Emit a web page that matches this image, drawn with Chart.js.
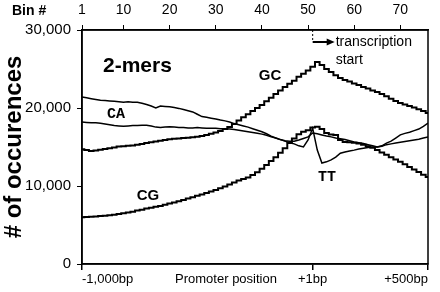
<!DOCTYPE html>
<html>
<head>
<meta charset="utf-8">
<script src="https://cdn.jsdelivr.net/npm/chart.js@4.4.1/dist/chart.umd.min.js"></script>
<style>
  html, body { margin: 0; padding: 0; background: #fff; }
  #wrap { width: 440px; height: 292px; }
</style>
</head>
<body>
<div id="wrap"><canvas id="chart"></canvas></div>
<script>
// bin number (20 bp per bin, -1,000bp .. +500bp)
const bins = [1, 2, 3, 4, 5, 6, 7, 8, 9, 10, 11, 12, 13, 14, 15, 16, 17, 18, 19, 20,
  21, 22, 23, 24, 25, 26, 27, 28, 29, 30, 31, 32, 33, 34, 35, 36, 37, 38, 39, 40,
  41, 42, 43, 44, 45, 46, 47, 48, 49, 50, 51, 52, 53, 54, 55, 56, 57, 58, 59, 60,
  61, 62, 63, 64, 65, 66, 67, 68, 69, 70, 71, 72, 73, 74, 75, 76];

const gc = [14700, 14600, 14500, 14550, 14650, 14750, 14850, 14950, 15050, 15100,
  15150, 15200, 15300, 15400, 15500, 15600, 15700, 15800, 15900, 16000,
  16050, 16100, 16150, 16200, 16250, 16300, 16400, 16550, 16700, 16850,
  17050, 17300, 17550, 17950, 18400, 18800, 19200, 19600, 20000, 20400,
  20850, 21300, 21800, 22250, 22700, 23100, 23500, 24000, 24400, 24800,
  25300, 25900, 25500, 25000, 24600, 24200, 23850, 23600, 23400, 23150,
  22950, 22700, 22500, 22250, 22050, 21800, 21500, 21200, 20900, 20650,
  20450, 20250, 20050, 19850, 19600, 19350];

const cg = [6000, 6030, 6060, 6100, 6150, 6200, 6250, 6300, 6400, 6500,
  6600, 6700, 6850, 6950, 7100, 7200, 7350, 7450, 7600, 7750,
  7900, 8050, 8200, 8400, 8550, 8750, 8900, 9100, 9300, 9500,
  9700, 9950, 10200, 10450, 10700, 10900, 11100, 11400, 11750, 12200,
  12700, 13200, 13700, 14250, 14850, 15500, 16100, 16650, 16950, 17150,
  17500, 17600, 17300, 16800, 16600, 16550, 15900, 15650, 15600, 15550,
  15450, 15300, 15100, 14900, 14600, 14300, 14000, 13700, 13400, 13100,
  12800, 12450, 12100, 11800, 11450, 11150];

const ca = [18200, 18150, 18100, 18100, 18050, 17950, 17850, 17750, 17700, 17650,
  17700, 17750, 17750, 17800, 17800, 17700, 17550, 17500, 17550, 17600,
  17550, 17500, 17500, 17450, 17450, 17500, 17450, 17400, 17400, 17400,
  17350, 17350, 17300, 17250, 17150, 17050, 16950, 16850, 16750, 16650,
  16500, 16300, 16150, 15950, 15800, 15750, 15750, 15900, 16100, 16300,
  16800, 16700, 16550, 16400, 16300, 16150, 16050, 15950, 15800, 15650,
  15550, 15450, 15300, 15150, 15000, 15100, 15300, 15400, 15500, 15600,
  15700, 15800, 15900, 16000, 16150, 16300];

const tt = [21400, 21300, 21200, 21100, 21000, 20950, 20900, 20850, 20800, 20750,
  20800, 20750, 20750, 20600, 20450, 20250, 20000, 20250, 20200, 20150,
  20050, 19950, 19800, 19650, 19500, 19200, 18900, 18800, 18700, 18600,
  18450, 18350, 18200, 18000, 17850, 17700, 17550, 17350, 17150, 16950,
  16700, 16400, 16150, 15950, 15750, 15550, 15400, 15150, 15000, 15900,
  17400, 14600, 12950, 13100, 13350, 13700, 14200, 14350, 14500, 14600,
  14750, 14850, 14950, 15000, 15000, 15150, 15500, 15750, 16150, 16550,
  16750, 16900, 17100, 17300, 17650, 18050];

// axis ticks
const binTicks = [1, 10, 20, 30, 40, 50, 60, 70];
const posTicks = [1, 51, 76];
const posLabels = ["-1,000bp", "+1bp", "+500bp"];
const yTicks = [0, 10000, 20000, 30000];

const FONT = "'Liberation Sans', Arial, sans-serif";
const MONO = "'Liberation Mono', 'Courier New', monospace";

const toXY = (arr) => arr.map((v, i) => ({ x: bins[i], y: v }));

// ------------ text and frame on top of the plot ----------------
const annotations = {
  id: "annotations",
  afterDraw(chart) {
    const { ctx, chartArea: a, scales } = chart;
    const x = scales.x;
    ctx.save();
    ctx.strokeStyle = "#000";
    ctx.fillStyle = "#000";
    ctx.lineWidth = 1.5;
    ctx.strokeRect(a.left, a.top, a.right - a.left, a.bottom - a.top);

    // transcription start marker
    const sx = x.getPixelForValue(51);
    ctx.lineWidth = 1;
    ctx.setLineDash([2, 2]);
    ctx.beginPath();
    ctx.moveTo(sx, a.top);
    ctx.lineTo(sx, a.top + 12);
    ctx.stroke();
    ctx.setLineDash([]);
    ctx.lineWidth = 2;
    ctx.beginPath();
    ctx.moveTo(sx, a.top + 12);
    ctx.lineTo(sx + 16, a.top + 12);
    ctx.stroke();
    ctx.beginPath();
    ctx.moveTo(sx + 22, a.top + 12);
    ctx.lineTo(sx + 14, a.top + 8.5);
    ctx.lineTo(sx + 14, a.top + 15.5);
    ctx.closePath();
    ctx.fill();

    ctx.textBaseline = "middle";
    ctx.textAlign = "left";
    ctx.font = "14px " + FONT;
    ctx.fillText("transcription", sx + 23, a.top + 12);
    ctx.fillText("start", sx + 23, a.top + 30);

    ctx.font = "bold 21px " + FONT;
    ctx.fillText("2-mers", 103, 66);

    ctx.font = "bold 14px " + FONT;
    ctx.fillText("Bin #", 12, 11);

    ctx.textAlign = "center";
    ctx.font = "bold 15px " + FONT;
    ctx.fillText("GC", 270, 76);
    ctx.fillText("CG", 148, 196);
    ctx.font = "bold 15px " + MONO;
    ctx.fillText("CA", 116, 114);
    ctx.fillText("TT", 327, 177);

    ctx.font = "13px " + FONT;
    ctx.fillText("Promoter position", 226, 279);
    ctx.restore();
  },
};

const lineStyle = (label, data, width, stepped) => ({
  label,
  data: toXY(data),
  borderColor: "#000",
  borderWidth: width,
  pointRadius: 0,
  tension: 0,
  stepped,
  fill: false,
});

new Chart(document.getElementById("chart"), {
  type: "line",
  data: {
    datasets: [
      lineStyle("GC", gc, 2, "middle"),
      lineStyle("CG", cg, 2, "middle"),
      lineStyle("CA", ca, 1.5, false),
      lineStyle("TT", tt, 1.5, false),
    ],
  },
  options: {
    responsive: true,
    maintainAspectRatio: false,
    animation: false,
    layout: { padding: { right: 12 } },
    plugins: { legend: { display: false }, tooltip: { enabled: false } },
    scales: {
      x: {
        type: "linear",
        position: "bottom",
        min: 1,
        max: 76,
        afterBuildTicks: (s) => { s.ticks = posTicks.map((v) => ({ value: v })); },
        afterFit: (s) => { s.height = 28; },
        grid: { drawOnChartArea: false, drawTicks: true, tickLength: 6, color: "#000", lineWidth: 1.5 },
        border: { color: "#000", width: 1.5 },
        ticks: {
          autoSkip: false,
          maxRotation: 0,
          align: "inner",
          padding: 2,
          color: "#000",
          font: { family: FONT, size: 13 },
          callback: (v, i) => posLabels[i],
        },
      },
      x2: {
        type: "linear",
        position: "top",
        min: 1,
        max: 76,
        afterBuildTicks: (s) => { s.ticks = binTicks.map((v) => ({ value: v })); },
        afterFit: (s) => { s.height = 30; },
        grid: { drawOnChartArea: false, drawTicks: true, tickLength: 5, color: "#000", lineWidth: 1 },
        border: { color: "#000", width: 1.5 },
        ticks: {
          autoSkip: false,
          maxRotation: 0,
          padding: 6,
          color: "#000",
          font: { family: FONT, size: 14 },
          callback: (v) => String(v),
        },
      },
      y: {
        min: 0,
        max: 30000,
        afterBuildTicks: (s) => { s.ticks = yTicks.map((v) => ({ value: v })); },
        afterFit: (s) => { s.width = 82; },
        grid: { drawOnChartArea: false, drawTicks: true, tickLength: 5, color: "#000", lineWidth: 1 },
        border: { color: "#000", width: 1.5 },
        ticks: {
          padding: 6,
          color: "#000",
          font: { family: FONT, size: 15 },
          callback: (v) => v.toLocaleString("en-US"),
        },
        title: {
          display: true,
          text: "# of occurences",
          color: "#000",
          padding: { top: 0, bottom: 0 },
          font: { family: FONT, size: 24, weight: "bold" },
        },
      },
    },
  },
  plugins: [annotations],
});
</script>
</body>
</html>
